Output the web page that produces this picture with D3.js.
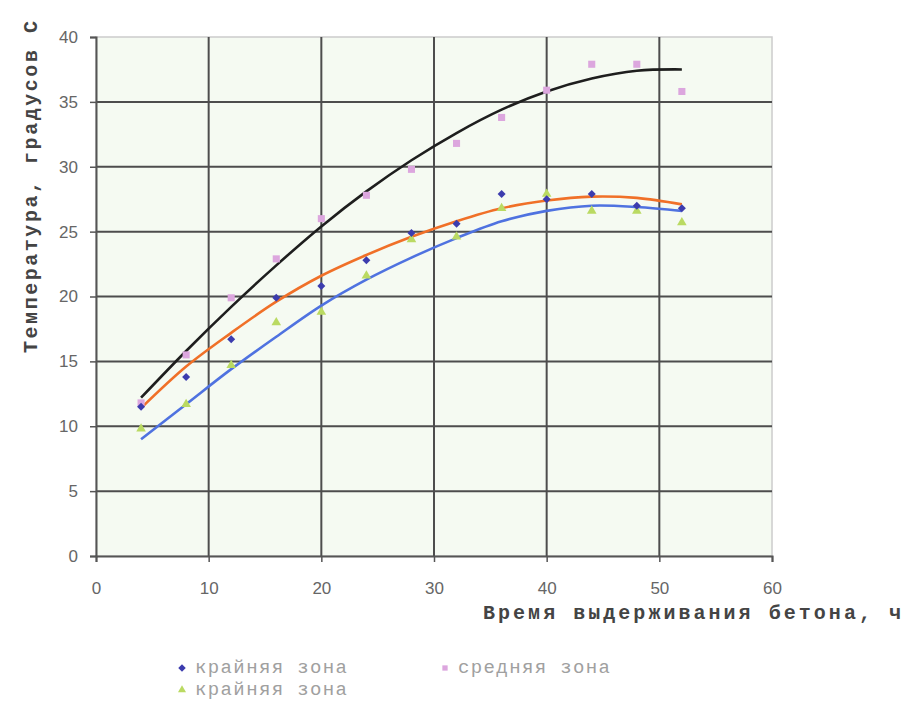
<!DOCTYPE html>
<html>
<head>
<meta charset="utf-8">
<script src="https://cdn.jsdelivr.net/npm/d3@7"></script>
<style>
body { margin: 0; background: #fff; }
</style>
</head>
<body>
<svg id="chart"></svg>
<script>
// hours of concrete curing
var hours = [4, 8, 12, 16, 20, 24, 28, 32, 36, 40, 44, 48, 52];

// measured temperatures
var edgeZoneA = [11.5, 13.8, 16.7, 19.9, 20.8, 22.8, 24.9, 25.6, 27.9, 27.5, 27.9, 27.0, 26.8];
var middleZone = [11.8, 15.5, 19.9, 22.9, 26.0, 27.8, 29.8, 31.8, 33.8, 35.9, 37.9, 37.9, 35.8];
var edgeZoneB = [9.8, 11.7, 14.7, 18.0, 18.8, 21.6, 24.4, 24.6, 26.8, 27.9, 26.6, 26.6, 25.7];

// trend lines
var trendMiddle = [12.2, 15.8, 19.2, 22.4, 25.4, 28.1, 30.5, 32.6, 34.4, 35.8, 36.8, 37.4, 37.5];
var trendEdgeA = [11.4, 14.6, 17.2, 19.6, 21.6, 23.2, 24.6, 25.8, 26.8, 27.4, 27.7, 27.6, 27.1];
var trendEdgeB = [9.0, 11.7, 14.4, 16.9, 19.3, 21.3, 23.0, 24.5, 25.8, 26.6, 27.0, 26.9, 26.6];

var xTicks = [0, 10, 20, 30, 40, 50, 60];
var yTicks = [0, 5, 10, 15, 20, 25, 30, 35, 40];

var width = 904,
    height = 702;

var svg = d3.select("#chart")
    .attr("width", width)
    .attr("height", height);

var x = d3.scaleLinear().domain([0, 60]).range([96, 772]);
var y = d3.scaleLinear().domain([0, 40]).range([556, 37]);

var mono = "'Liberation Mono', 'Courier New', monospace";

// plot area
svg.append("rect")
    .attr("x", x(0))
    .attr("y", y(40))
    .attr("width", x(60) - x(0))
    .attr("height", y(0) - y(40))
    .attr("fill", "#f5faf2")
    .attr("stroke", "#cccccc")
    .attr("stroke-width", 1.5);

// grid
svg.append("g").selectAll("line")
    .data(yTicks.filter(function(d) { return d > 0 && d < 40; }))
    .enter().append("line")
    .attr("x1", x(0)).attr("x2", x(60))
    .attr("y1", function(d) { return y(d); })
    .attr("y2", function(d) { return y(d); })
    .attr("stroke", "#4d4d4d")
    .attr("stroke-width", 2);

svg.append("g").selectAll("line")
    .data(xTicks.filter(function(d) { return d > 0 && d < 60; }))
    .enter().append("line")
    .attr("y1", y(0)).attr("y2", y(40))
    .attr("x1", function(d) { return x(d); })
    .attr("x2", function(d) { return x(d); })
    .attr("stroke", "#4d4d4d")
    .attr("stroke-width", 2);

// axes
var yAxis = svg.append("g")
    .attr("transform", "translate(" + x(0) + ",0)")
    .call(d3.axisLeft(y).tickValues(yTicks).tickSize(6).tickPadding(12));

var xAxis = svg.append("g")
    .attr("transform", "translate(0," + y(0) + ")")
    .call(d3.axisBottom(x).tickValues(xTicks).tickSize(6).tickPadding(20));

[xAxis, yAxis].forEach(function(a) {
    a.select(".domain").attr("stroke", "#555").attr("stroke-width", 2);
    a.selectAll(".tick line").attr("stroke", "#555").attr("stroke-width", 1.5);
    a.selectAll(".tick text")
        .attr("fill", "#666")
        .style("font-family", "'Liberation Sans', Arial, sans-serif")
        .style("font-size", "17px");
});

// trend lines
var line = d3.line()
    .x(function(d) { return x(d[0]); })
    .y(function(d) { return y(d[1]); })
    .curve(d3.curveCatmullRom);

var trends = [
    {values: trendMiddle, color: "#1e1e1e"},
    {values: trendEdgeA, color: "#f07028"},
    {values: trendEdgeB, color: "#4f72e0"}
];

trends.forEach(function(t) {
    svg.append("path")
        .datum(d3.zip(hours, t.values))
        .attr("d", line)
        .attr("fill", "none")
        .attr("stroke", t.color)
        .attr("stroke-width", 2.6);
});

// markers (diamond = rotated square)
var series = [
    {values: middleZone, color: "#dca6de", symbol: d3.symbolSquare, size: 50, rot: 0},
    {values: edgeZoneB, color: "#bada62", symbol: d3.symbolTriangle, size: 40, rot: 0},
    {values: edgeZoneA, color: "#3c3cae", symbol: d3.symbolSquare, size: 32, rot: 45}
];

series.forEach(function(s) {
    svg.append("g").selectAll("path")
        .data(d3.zip(hours, s.values))
        .enter().append("path")
        .attr("transform", function(d) { return "translate(" + x(d[0]) + "," + y(d[1]) + ") rotate(" + s.rot + ")"; })
        .attr("d", d3.symbol().type(s.symbol).size(s.size))
        .attr("fill", s.color);
});

// axis titles
svg.append("text")
    .attr("transform", "translate(37,187) rotate(-90)")
    .attr("text-anchor", "middle")
    .attr("textLength", 332)
    .attr("lengthAdjust", "spacing")
    .style("font-family", mono)
    .style("font-weight", "bold")
    .style("font-size", "20px")
    .attr("fill", "#444")
    .text("Температура, градусов С");

svg.append("text")
    .attr("x", 483)
    .attr("y", 619)
    .attr("textLength", 418)
    .attr("lengthAdjust", "spacing")
    .style("font-family", mono)
    .style("font-weight", "bold")
    .style("font-size", "20px")
    .attr("fill", "#444")
    .text("Время выдерживания бетона, ч");

// legend
var legend = [
    {label: "крайняя зона", color: "#3c3cae", symbol: d3.symbolSquare, rot: 45, lx: 182, ly: 668},
    {label: "средняя зона", color: "#dca6de", symbol: d3.symbolSquare, rot: 0, lx: 445, ly: 668},
    {label: "крайняя зона", color: "#bada62", symbol: d3.symbolTriangle, rot: 0, lx: 182, ly: 690}
];

legend.forEach(function(l) {
    svg.append("path")
        .attr("transform", "translate(" + l.lx + "," + l.ly + ") rotate(" + l.rot + ")")
        .attr("d", d3.symbol().type(l.symbol).size(28))
        .attr("fill", l.color);
    svg.append("text")
        .attr("x", l.lx + 13)
        .attr("y", l.ly + 5)
        .attr("textLength", 152)
        .attr("lengthAdjust", "spacing")
        .style("font-family", mono)
        .style("font-size", "19px")
        .attr("fill", "#a0a0a0")
        .text(l.label);
});
</script>
</body>
</html>
